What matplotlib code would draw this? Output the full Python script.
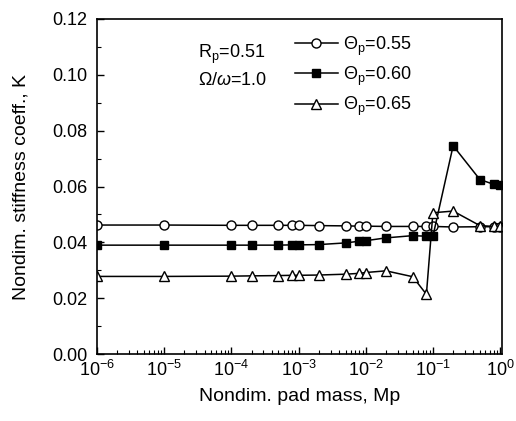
import matplotlib
matplotlib.use("Agg")
import matplotlib.pyplot as plt
from matplotlib.ticker import LogLocator, MultipleLocator, NullFormatter

plt.rcParams['font.family'] = ['Liberation Sans', 'DejaVu Sans']
plt.rcParams['mathtext.fontset'] = 'custom'
plt.rcParams['mathtext.rm'] = 'Liberation Sans'
plt.rcParams['mathtext.it'] = 'Liberation Sans:italic'

mp = [1e-6, 1e-5, 1e-4, 2e-4, 5e-4, 8e-4, 1e-3, 2e-3, 5e-3, 8e-3, 1e-2,
      2e-2, 5e-2, 8e-2, 0.1, 0.2, 0.5, 0.8, 1.0]
k_055 = [0.0462, 0.0462, 0.0461, 0.0461, 0.0461, 0.0461, 0.0461, 0.0460, 0.0459,
         0.0458, 0.0458, 0.0457, 0.0457, 0.0457, 0.0457, 0.0455, 0.0456, 0.0456, 0.0456]
k_060 = [0.0390, 0.0390, 0.0390, 0.0390, 0.0390, 0.0391, 0.0391, 0.0392, 0.0398,
         0.0404, 0.0406, 0.0416, 0.0424, 0.0422, 0.0422, 0.0746, 0.0625, 0.0608, 0.0604]
k_065 = [0.0278, 0.0278, 0.0279, 0.0280, 0.0281, 0.0282, 0.0282, 0.0283, 0.0286,
         0.0289, 0.0292, 0.0298, 0.0277, 0.0214, 0.0506, 0.0512, 0.0460, 0.0457, 0.0457]
labels = [r'$\Theta_\mathrm{p}$=0.55', r'$\Theta_\mathrm{p}$=0.60', r'$\Theta_\mathrm{p}$=0.65']

fig = plt.figure(figsize=(5.16, 4.21), dpi=100)
ax = fig.add_axes([0.188, 0.159, 0.785, 0.796])

ms = 6.5
ax.plot(mp, k_055, '-o', color='black', mfc='white', mec='black', ms=ms, lw=1.1, label=labels[0])
ax.plot(mp, k_060, '-s', color='black', mfc='black', mec='black', ms=ms - 0.5, lw=1.1, label=labels[1])
ax.plot(mp, k_065, '-^', color='black', mfc='white', mec='black', ms=ms + 0.5, lw=1.1, label=labels[2])

ax.set_xscale('log')
ax.set_xlim(1e-6, 1.07)
ax.set_ylim(0.0, 0.12)
ax.yaxis.set_major_locator(MultipleLocator(0.02))
ax.yaxis.set_minor_locator(MultipleLocator(0.01))
ax.yaxis.set_major_formatter(plt.FuncFormatter(lambda v, p: f'{v:.2f}'))
ax.xaxis.set_major_locator(LogLocator(base=10, numticks=20))
ax.xaxis.set_minor_locator(LogLocator(base=10, subs=range(2, 10), numticks=100))
ax.xaxis.set_minor_formatter(NullFormatter())

ax.tick_params(which='both', direction='in', top=False, right=False, labelsize=13)
ax.tick_params(which='major', length=5, width=1)
ax.tick_params(which='minor', length=3, width=0.8)
ax.tick_params(axis='y', pad=7)
ax.tick_params(axis='x', pad=4)
for s in ax.spines.values():
    s.set_linewidth(1.2)

ax.set_xlabel('Nondim. pad mass, Mp', fontsize=14, labelpad=6)
ax.set_ylabel('Nondim. stiffness coeff., K', fontsize=14, labelpad=16)

ax.text(0.25, 0.895, r'R$_\mathrm{p}$=0.51', transform=ax.transAxes, fontsize=13, va='center')
ax.text(0.25, 0.815, r'$\Omega/\omega$=1.0', transform=ax.transAxes, fontsize=13, va='center')

ax.legend(loc='upper left', bbox_to_anchor=(0.47, 0.975), frameon=False, fontsize=13,
          handlelength=2.4, handletextpad=0.3, labelspacing=0.38, borderaxespad=0)

fig.savefig('out.png', dpi=100)
